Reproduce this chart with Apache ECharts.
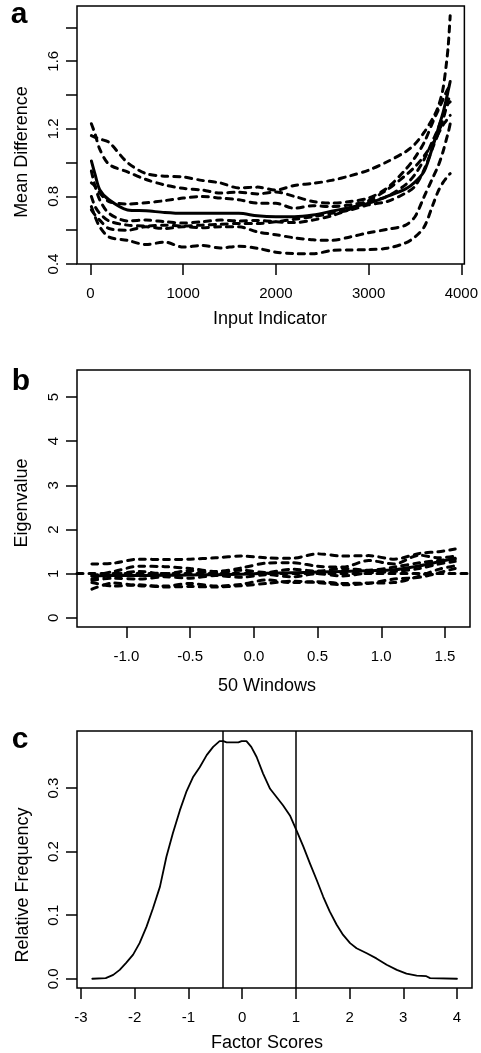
<!DOCTYPE html>
<html>
<head>
<meta charset="utf-8">
<script src="https://cdn.jsdelivr.net/npm/echarts@6/dist/echarts.min.js"></script>
<style>
  html, body { margin: 0; padding: 0; background: #fff; }
  #main { width: 481px; height: 1053px; }
</style>
</head>
<body>
<div id="main"></div>
<script>
// panel a : mean difference vs input indicator
var xsA = [10, 50, 100, 200, 400, 600, 800, 1000, 1200, 1400, 1600, 1800, 2000, 2200, 2400, 2600, 2800, 3000, 3200, 3400, 3500, 3600, 3700, 3750, 3800, 3840, 3860, 3880];
var meanA = [1.01, 0.93, 0.84, 0.78, 0.72, 0.715, 0.705, 0.70, 0.70, 0.70, 0.70, 0.685, 0.68, 0.68, 0.69, 0.712, 0.735, 0.76, 0.80, 0.845, 0.885, 0.95, 1.11, 1.2, 1.29, 1.38, 1.43, 1.48];
var runA1 = [1.23, 1.17, 1.08, 0.99, 0.945, 0.90, 0.868, 0.848, 0.838, 0.82, 0.825, 0.815, 0.826, 0.80, 0.77, 0.76, 0.77, 0.79, 0.85, 0.96, 1.03, 1.12, 1.25, 1.31, 1.37, 1.42, 1.44, 1.45];
var runA2 = [1.16, 1.15, 1.14, 1.12, 1.00, 0.935, 0.92, 0.915, 0.895, 0.88, 0.85, 0.855, 0.838, 0.865, 0.877, 0.895, 0.922, 0.955, 1.005, 1.065, 1.11, 1.18, 1.27, 1.33, 1.43, 1.59, 1.70, 1.87];
var runA3 = [0.88, 0.86, 0.82, 0.77, 0.755, 0.762, 0.775, 0.79, 0.80, 0.79, 0.78, 0.76, 0.759, 0.73, 0.745, 0.74, 0.75, 0.77, 0.80, 0.87, 0.93, 1.02, 1.14, 1.2, 1.28, 1.33, 1.35, 1.36];
var runA4 = [0.95, 0.86, 0.78, 0.70, 0.655, 0.66, 0.65, 0.642, 0.65, 0.66, 0.655, 0.658, 0.65, 0.645, 0.66, 0.685, 0.725, 0.775, 0.84, 0.925, 0.975, 1.04, 1.12, 1.17, 1.22, 1.25, 1.27, 1.28];
var runA5 = [0.72, 0.69, 0.66, 0.61, 0.60, 0.62, 0.61, 0.62, 0.615, 0.62, 0.62, 0.59, 0.573, 0.555, 0.543, 0.54, 0.56, 0.585, 0.605, 0.63, 0.68, 0.80, 0.92, 0.98, 1.06, 1.14, 1.18, 1.23];
var runA6 = [0.74, 0.68, 0.62, 0.56, 0.54, 0.515, 0.53, 0.50, 0.51, 0.495, 0.505, 0.493, 0.47, 0.462, 0.46, 0.48, 0.483, 0.485, 0.493, 0.525, 0.56, 0.62, 0.76, 0.83, 0.88, 0.91, 0.925, 0.935];
var runA7 = [0.80, 0.74, 0.70, 0.655, 0.63, 0.625, 0.63, 0.625, 0.63, 0.635, 0.64, 0.64, 0.65, 0.665, 0.68, 0.70, 0.72, 0.75, 0.77, 0.82, 0.86, 0.96, 1.10, 1.17, 1.25, 1.33, 1.37, 1.40];
var xTicksA = [0, 1000, 2000, 3000, 4000];
var yTicksA = [0.4, 0.6, 0.8, 1.0, 1.2, 1.4, 1.6, 1.8];
var yLabelsA = [0.4, 0.8, 1.2, 1.6];

// panel b : eigenvalue vs 50 windows
var xsB = [-1.27, -1.1, -0.9, -0.7, -0.5, -0.3, -0.1, 0.1, 0.3, 0.5, 0.7, 0.9, 1.1, 1.3, 1.45, 1.58];
var meanB = [0.95, 0.96, 0.96, 0.965, 0.97, 0.98, 0.99, 1.01, 1.02, 1.04, 1.05, 1.07, 1.09, 1.18, 1.27, 1.35];
var runB1 = [1.22, 1.24, 1.33, 1.32, 1.33, 1.36, 1.40, 1.36, 1.35, 1.45, 1.40, 1.41, 1.33, 1.46, 1.50, 1.56];
var runB2 = [0.95, 1.05, 1.17, 1.16, 1.12, 1.05, 1.13, 1.24, 1.25, 1.17, 1.15, 1.30, 1.22, 1.42, 1.36, 1.40];
var runB3 = [0.88, 0.98, 1.05, 1.00, 1.07, 1.02, 1.08, 1.03, 1.10, 1.06, 1.12, 1.08, 1.15, 1.25, 1.30, 1.33];
var runB4 = [0.85, 0.90, 0.88, 0.93, 0.90, 0.96, 0.92, 0.98, 0.93, 1.00, 0.95, 1.02, 1.05, 1.12, 1.22, 1.28];
var runB5 = [0.65, 0.79, 0.73, 0.72, 0.78, 0.72, 0.76, 0.86, 0.80, 0.82, 0.78, 0.79, 0.80, 0.95, 1.10, 1.18];
var runB6 = [0.80, 0.72, 0.75, 0.70, 0.71, 0.70, 0.73, 0.78, 0.83, 0.80, 0.75, 0.78, 0.88, 0.92, 1.02, 1.12];
var refB = 1;
var xTicksB = [-1.0, -0.5, 0.0, 0.5, 1.0, 1.5];
var yTicksB = [0, 1, 2, 3, 4, 5];

// panel c : relative frequency of factor scores
var xsC = [-2.79, -2.54, -2.40, -2.28, -2.16, -2.03, -1.91, -1.78, -1.66, -1.53, -1.41, -1.29, -1.16, -1.04, -0.91, -0.79, -0.66, -0.54, -0.42, -0.35, -0.29, -0.07, -0.01, 0.08, 0.17, 0.27, 0.39, 0.52, 0.64, 0.76, 0.89, 1.01, 1.14, 1.26, 1.39, 1.51, 1.63, 1.76, 1.88, 2.01, 2.13, 2.32, 2.50, 2.69, 2.88, 3.06, 3.25, 3.43, 3.50, 4.00];
var freqC = [0, 0.001, 0.006, 0.014, 0.025, 0.038, 0.056, 0.082, 0.111, 0.145, 0.192, 0.229, 0.265, 0.294, 0.318, 0.333, 0.352, 0.365, 0.374, 0.374, 0.372, 0.372, 0.374, 0.374, 0.365, 0.349, 0.323, 0.299, 0.286, 0.273, 0.257, 0.234, 0.208, 0.182, 0.155, 0.129, 0.106, 0.085, 0.069, 0.056, 0.048, 0.040, 0.032, 0.022, 0.014, 0.008, 0.005, 0.004, 0.001, 0];
var cutsC = [-0.37, 1.0];
var xTicksC = [-3, -2, -1, 0, 1, 2, 3, 4];
var yTicksC = [0.0, 0.1, 0.2, 0.3];

var FONT = '"Liberation Sans", Arial, sans-serif';
var BLACK = '#000';

function pairs(xs, ys) {
	return xs.map(function (x, i) { return [x, ys[i]]; });
}

function lineSeries(idx, xs, ys, dashed, width) {
	return {
		type: 'line',
		xAxisIndex: idx,
		yAxisIndex: idx,
		data: pairs(xs, ys),
		symbol: 'none',
		smooth: 0.3,
		silent: true,
		lineStyle: {
			color: BLACK,
			width: width,
			type: dashed ? [6, 6] : 'solid',
			cap: 'round',
			join: 'round'
		}
	};
}

function xAxisOf(idx, min, max, ticks, fmt) {
	return {
		type: 'value', gridIndex: idx, min: min, max: max,
		splitLine: { show: false },
		axisLine: { show: false, onZero: false },
		axisTick: { show: true, length: 11, customValues: ticks, lineStyle: { color: BLACK, width: 1.5 } },
		axisLabel: { customValues: ticks, color: BLACK, fontSize: 15, fontFamily: FONT, margin: 22, formatter: fmt }
	};
}

function yAxisOf(idx, min, max, ticks, labels, fmt) {
	return {
		type: 'value', gridIndex: idx, min: min, max: max,
		splitLine: { show: false },
		axisLine: { show: false, onZero: false },
		axisTick: { show: true, length: 11, customValues: ticks, lineStyle: { color: BLACK, width: 1.5 } },
		axisLabel: { customValues: labels, rotate: 90, color: BLACK, fontSize: 15, fontFamily: FONT, margin: 16, formatter: fmt }
	};
}

function txt(x, y, s, size, bold, rot) {
	return {
		type: 'text', x: x, y: y, rotation: rot || 0, silent: true,
		style: { text: s, fill: BLACK, font: (bold ? 'bold ' : '') + size + 'px ' + FONT, align: 'center', verticalAlign: 'middle' }
	};
}

var gridStyle = { show: true, borderColor: BLACK, borderWidth: 1.5, backgroundColor: 'transparent' };

var series = [];
[runA1, runA2, runA3, runA4, runA5, runA6, runA7].forEach(function (r) { series.push(lineSeries(0, xsA, r, true, 3)); });
series.push(lineSeries(0, xsA, meanA, false, 3));

[runB1, runB2, runB3, runB4, runB5, runB6].forEach(function (r) { series.push(lineSeries(1, xsB, r, true, 3)); });
var bMean = lineSeries(1, xsB, meanB, false, 3);
bMean.markLine = {
	silent: true, symbol: 'none', label: { show: false },
	lineStyle: { color: BLACK, width: 3, type: [6, 6], cap: 'round' },
	data: [{ yAxis: refB }]
};
series.push(bMean);

var cLine = lineSeries(2, xsC, freqC, false, 1.8);
cLine.smooth = false;
cLine.markLine = {
	silent: true, symbol: 'none', label: { show: false },
	lineStyle: { color: BLACK, width: 1.5, type: 'solid' },
	data: cutsC.map(function (v) { return { xAxis: v }; })
};
series.push(cLine);

var option = {
	animation: false,
	backgroundColor: '#fff',
	grid: [
		Object.assign({ left: 77, top: 6, width: 394, height: 258 }, gridStyle),
		Object.assign({ left: 77, top: 370, width: 393, height: 257 }, gridStyle),
		Object.assign({ left: 77, top: 731, width: 395, height: 257 }, gridStyle)
	],
	xAxis: [
		xAxisOf(0, -145, 4033, xTicksA, function (v) { return String(v); }),
		xAxisOf(1, -1.387, 1.696, xTicksB, function (v) { return v.toFixed(1); }),
		xAxisOf(2, -3.075, 4.28, xTicksC, function (v) { return String(v); })
	],
	yAxis: [
		yAxisOf(0, 0.4, 1.927, yTicksA, yLabelsA, function (v) { return v.toFixed(1); }),
		yAxisOf(1, -0.205, 5.61, yTicksB, yTicksB, function (v) { return String(v); }),
		yAxisOf(2, -0.0146, 0.39, yTicksC, yTicksC, function (v) { return v.toFixed(1); })
	],
	series: series,
	graphic: [
		txt(19, 15, 'a', 30, true),
		txt(21, 382, 'b', 30, true),
		txt(20, 740, 'c', 30, true),
		txt(22, 152, 'Mean Difference', 18, false, Math.PI / 2),
		txt(22, 503, 'Eigenvalue', 18, false, Math.PI / 2),
		txt(23, 885, 'Relative Frequency', 18, false, Math.PI / 2),
		txt(270, 319, 'Input Indicator', 18, false),
		txt(267, 686, '50 Windows', 18, false),
		txt(267, 1043, 'Factor Scores', 18, false)
	]
};

var myChart = echarts.init(document.getElementById('main'));
myChart.setOption(option);
</script>
</body>
</html>
